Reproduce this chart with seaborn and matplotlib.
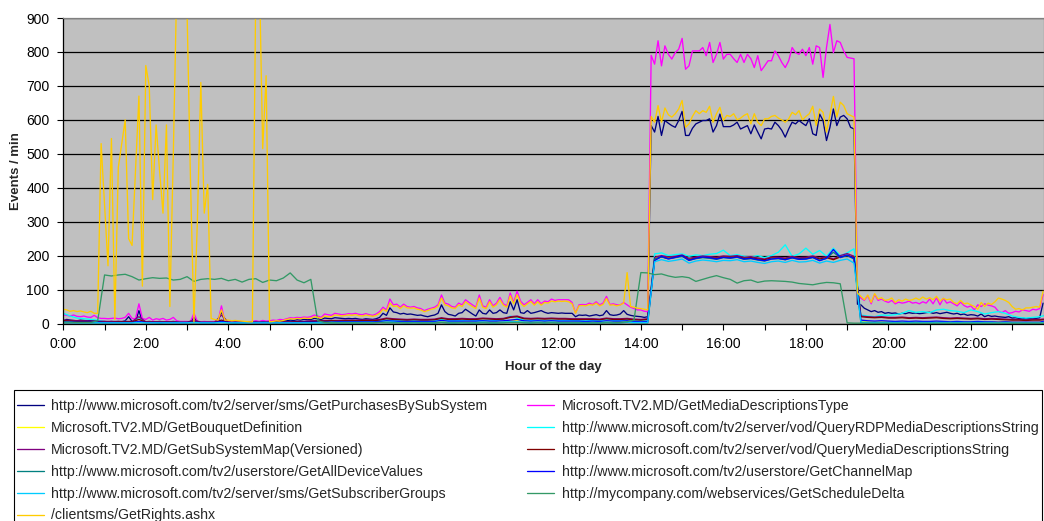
import numpy as np
import matplotlib
matplotlib.use("Agg")
import matplotlib.pyplot as plt
from matplotlib.patches import Rectangle
import seaborn as sns

# ---------------------------------------------------------------------------
# Events per minute for each web method over one day.
# Busy series are sampled every 5 minutes, the others every 10 minutes.
# One source line per hour of the day.
# ---------------------------------------------------------------------------
step5_min = 5
step10_min = 10

get_purchases_by_subsystem = [  # 5-min
    8, 12, 10, 9, 8, 10, 9, 8, 9, 8, 7, 6,
    6, 5, 6, 5, 6, 5, 8, 20, 6, 5, 38, 6,
    5, 6, 5, 5, 6, 5, 4, 5, 6, 5, 4, 4,
    4, 5, 18, 5, 4, 5, 4, 4, 5, 6, 36, 5,
    4, 4, 5, 4, 4, 5, 4, 5, 6, 5, 6, 5,
    5, 6, 6, 7, 8, 8, 10, 9, 11, 10, 12, 11,
    12, 15, 14, 12, 16, 15, 14, 17, 16, 15, 14, 15,
    14, 15, 13, 12, 14, 13, 12, 14, 18, 30, 24, 46,
    34, 32, 28, 30, 27, 28, 26, 24, 25, 22, 20, 23,
    25, 30, 55, 35, 27, 25, 22, 30, 32, 42, 35, 28,
    22, 40, 30, 28, 40, 30, 32, 40, 32, 30, 64, 40,
    70, 32, 30, 38, 30, 32, 35, 38, 33, 30, 32, 31,
    30, 31, 30, 30, 30, 20, 25, 24, 25, 22, 24, 26,
    23, 25, 38, 26, 24, 25, 28, 38, 27, 24, 22, 21,
    20, 18, 20, 583, 564, 610, 554, 598, 590, 583, 578, 598,
    625, 554, 554, 575, 588, 593, 598, 598, 603, 564, 583, 617,
    580, 580, 580, 585, 593, 573, 578, 583, 559, 585, 564, 544,
    573, 575, 573, 593, 583, 569, 549, 573, 593, 588, 598, 590,
    583, 603, 559, 554, 617, 598, 539, 578, 632, 583, 608, 613,
    603, 578, 573, 57, 55, 45, 40, 35, 38, 33, 35, 30,
    32, 30, 31, 28, 30, 29, 32, 30, 31, 29, 30, 32,
    33, 30, 32, 29, 31, 33, 30, 28, 30, 26, 28, 24,
    26, 25, 22, 28, 20, 24, 21, 22, 20, 19, 18, 20,
    16, 17, 15, 16, 14, 15, 16, 15, 17, 60,
]

get_media_descriptions_type = [  # 5-min
    26, 24, 22, 25, 21, 20, 22, 19, 18, 24, 17, 15,
    15, 14, 15, 16, 14, 15, 18, 30, 15, 14, 58, 15,
    12, 18, 10, 14, 12, 15, 10, 12, 18, 8, 6, 6,
    6, 5, 30, 6, 5, 6, 5, 5, 6, 6, 52, 6,
    5, 5, 4, 5, 4, 5, 5, 6, 8, 6, 9, 7,
    8, 10, 9, 12, 11, 14, 17, 16, 18, 17, 19, 18,
    20, 25, 22, 18, 28, 26, 24, 30, 28, 26, 27, 29,
    28, 30, 27, 26, 29, 26, 24, 28, 35, 48, 40, 72,
    55, 57, 48, 57, 50, 48, 50, 46, 44, 38, 42, 45,
    48, 55, 84, 60, 57, 50, 48, 60, 55, 70, 62, 55,
    48, 84, 52, 48, 70, 52, 60, 77, 58, 52, 90, 62,
    95, 66, 55, 62, 70, 58, 70, 58, 66, 64, 72, 68,
    70, 70, 70, 70, 62, 31, 55, 56, 55, 60, 56, 64,
    55, 60, 80, 56, 58, 55, 55, 62, 55, 48, 44, 40,
    40, 36, 35, 790, 764, 833, 759, 818, 793, 779, 798, 808,
    840, 749, 759, 803, 803, 803, 813, 789, 828, 769, 793, 828,
    779, 793, 793, 780, 769, 793, 769, 793, 780, 754, 789, 745,
    759, 774, 774, 803, 789, 769, 754, 774, 813, 798, 793, 808,
    789, 813, 764, 818, 813, 725, 813, 881, 798, 833, 828, 803,
    784, 782, 780, 88, 75, 68, 82, 58, 86, 68, 72, 66,
    62, 68, 58, 63, 60, 62, 66, 60, 62, 58, 64, 60,
    72, 58, 76, 55, 74, 60, 64, 58, 52, 63, 53, 48,
    52, 40, 55, 50, 58, 54, 52, 48, 36, 32, 38, 30,
    32, 36, 34, 40, 38, 36, 42, 40, 44, 85,
]

get_rights = [  # 5-min
    42, 40, 36, 38, 35, 37, 34, 32, 36, 30, 30, 530,
    350, 170, 545, 12, 460, 530, 600, 250, 230, 450, 670, 110,
    760, 700, 365, 585, 450, 325, 585, 50, 500, 1000, 1150, 1050,
    920, 420, 5, 300, 710, 325, 410, 15, 12, 10, 40, 10,
    10, 8, 9, 8, 7, 6, 5, 5, 1000, 1050, 515, 730,
    5, 6, 8, 7, 9, 12, 14, 13, 15, 14, 16, 15,
    15, 20, 18, 15, 22, 20, 20, 25, 24, 22, 24, 25,
    24, 26, 23, 22, 25, 23, 21, 24, 30, 42, 36, 60,
    50, 52, 44, 52, 46, 45, 46, 42, 40, 35, 38, 42,
    44, 50, 75, 55, 52, 46, 44, 55, 50, 64, 56, 50,
    44, 75, 48, 44, 64, 48, 55, 70, 54, 48, 82, 58,
    85, 60, 50, 58, 65, 54, 64, 54, 62, 60, 66, 64,
    66, 65, 66, 64, 58, 30, 52, 53, 52, 56, 54, 60,
    52, 56, 74, 54, 55, 52, 55, 60, 150, 50, 48, 45,
    44, 42, 40, 610, 593, 642, 593, 635, 615, 608, 618, 632,
    657, 578, 588, 610, 627, 618, 627, 622, 640, 593, 618, 637,
    598, 613, 610, 618, 600, 605, 613, 618, 588, 618, 593, 583,
    603, 603, 610, 613, 605, 600, 593, 603, 622, 615, 627, 600,
    610, 618, 640, 583, 632, 622, 564, 615, 669, 608, 652, 642,
    618, 613, 608, 90, 80, 70, 84, 62, 88, 72, 76, 68,
    70, 75, 62, 70, 66, 72, 68, 70, 75, 70, 78, 72,
    76, 70, 80, 66, 74, 70, 72, 62, 58, 68, 58, 60,
    55, 50, 42, 62, 50, 60, 56, 64, 75, 72, 68, 62,
    50, 42, 44, 40, 46, 46, 48, 50, 48, 95,
]

get_bouquet_definition = [  # 10-min
    4, 4, 3, 3, 3, 3,
    3, 3, 3, 3, 3, 5,
    3, 3, 3, 3, 3, 3,
    3, 4, 3, 3, 3, 5,
    3, 3, 3, 3, 3, 3,
    3, 3, 3, 3, 3, 3,
    3, 3, 3, 4, 4, 4,
    4, 4, 4, 4, 5, 6,
    5, 5, 5, 5, 5, 5,
    5, 6, 5, 5, 5, 5,
    5, 6, 5, 5, 6, 7,
    8, 6, 5, 6, 5, 6,
    5, 5, 5, 5, 5, 5,
    5, 6, 5, 5, 6, 5,
    4, 5, 193, 198, 194, 196,
    200, 190, 194, 197, 195, 193,
    197, 196, 198, 193, 195, 191,
    188, 194, 193, 191, 196, 192,
    193, 197, 191, 195, 188, 198,
    204, 196, 6, 5, 5, 5,
    5, 5, 5, 5, 5, 5,
    5, 5, 5, 4, 5, 4,
    4, 5, 4, 4, 4, 4,
    4, 4, 3, 4, 4, 5,
]

query_rdp_media_descriptions = [  # 10-min
    30, 22, 16, 14, 12, 10,
    5, 5, 4, 6, 5, 14,
    5, 4, 4, 4, 4, 3,
    3, 6, 3, 3, 3, 8,
    3, 3, 3, 3, 3, 4,
    3, 4, 4, 5, 4, 5,
    5, 6, 6, 7, 6, 7,
    6, 6, 7, 6, 8, 10,
    8, 8, 7, 8, 7, 7,
    8, 12, 8, 8, 9, 10,
    8, 9, 10, 9, 12, 22,
    16, 10, 9, 10, 9, 10,
    9, 9, 9, 8, 8, 9,
    8, 12, 9, 8, 12, 10,
    8, 10, 205, 208, 200, 203,
    205, 198, 202, 200, 204, 206,
    216, 200, 203, 198, 196, 200,
    194, 200, 210, 232, 198, 205,
    222, 204, 215, 198, 222, 200,
    208, 220, 25, 22, 20, 25,
    24, 26, 30, 38, 33, 35,
    32, 40, 42, 38, 36, 32,
    40, 35, 28, 32, 35, 30,
    22, 18, 16, 18, 20, 25,
]

get_subsystem_map = [  # 10-min
    10, 9, 8, 8, 7, 7,
    6, 6, 6, 6, 6, 20,
    5, 5, 5, 5, 5, 4,
    4, 10, 4, 4, 4, 25,
    4, 4, 4, 4, 4, 4,
    4, 4, 5, 5, 6, 6,
    8, 8, 9, 9, 9, 10,
    10, 10, 11, 10, 12, 16,
    14, 13, 12, 13, 12, 12,
    13, 17, 14, 14, 15, 14,
    14, 16, 15, 14, 15, 20,
    22, 16, 15, 16, 15, 16,
    15, 15, 14, 14, 14, 14,
    13, 16, 14, 14, 15, 13,
    12, 14, 195, 200, 196, 198,
    202, 192, 196, 199, 197, 195,
    199, 198, 200, 195, 197, 193,
    190, 196, 195, 193, 198, 194,
    195, 199, 193, 197, 190, 200,
    206, 198, 22, 20, 19, 20,
    18, 18, 19, 17, 18, 17,
    18, 19, 17, 16, 17, 16,
    15, 16, 14, 15, 14, 13,
    12, 12, 11, 12, 12, 14,
]

query_media_descriptions = [  # 10-min
    8, 7, 6, 6, 5, 5,
    4, 4, 5, 5, 5, 12,
    4, 4, 4, 4, 4, 3,
    3, 6, 3, 3, 3, 10,
    3, 3, 3, 3, 3, 3,
    3, 3, 4, 4, 5, 5,
    6, 7, 7, 8, 7, 8,
    8, 8, 9, 8, 10, 14,
    12, 11, 10, 11, 10, 10,
    11, 15, 12, 12, 13, 12,
    12, 14, 13, 12, 13, 18,
    20, 14, 13, 14, 13, 14,
    13, 13, 12, 12, 12, 12,
    11, 14, 12, 12, 13, 11,
    10, 12, 190, 196, 192, 195,
    200, 188, 193, 195, 194, 192,
    196, 195, 197, 192, 194, 190,
    188, 193, 192, 190, 195, 191,
    192, 196, 190, 194, 188, 196,
    200, 195, 20, 18, 17, 18,
    16, 16, 17, 15, 16, 15,
    16, 17, 15, 14, 15, 14,
    13, 14, 12, 13, 12, 11,
    10, 10, 9, 10, 10, 12,
]

get_all_device_values = [  # 10-min
    2, 2, 2, 2, 2, 2,
    2, 2, 2, 2, 2, 3,
    2, 2, 1, 2, 2, 2,
    2, 2, 2, 2, 2, 3,
    2, 1, 2, 2, 2, 2,
    2, 2, 2, 2, 2, 2,
    2, 2, 2, 2, 2, 2,
    2, 2, 2, 2, 3, 3,
    3, 3, 2, 3, 2, 2,
    2, 3, 2, 2, 3, 2,
    2, 3, 2, 2, 3, 4,
    4, 3, 2, 3, 2, 3,
    2, 2, 2, 2, 2, 2,
    2, 3, 2, 2, 3, 2,
    2, 2, 190, 196, 191, 194,
    198, 186, 191, 194, 192, 189,
    194, 192, 195, 189, 191, 187,
    184, 190, 191, 188, 193, 189,
    190, 194, 186, 192, 210, 194,
    200, 190, 3, 2, 2, 2,
    2, 2, 2, 2, 2, 2,
    2, 2, 2, 2, 2, 2,
    2, 2, 2, 2, 2, 2,
    2, 2, 2, 2, 2, 2,
]

get_channel_map = [  # 10-min
    5, 5, 4, 4, 4, 4,
    3, 3, 3, 3, 3, 6,
    3, 3, 3, 3, 3, 3,
    3, 4, 3, 3, 3, 6,
    3, 3, 3, 3, 3, 3,
    3, 3, 3, 3, 3, 4,
    4, 4, 4, 4, 5, 5,
    5, 5, 5, 5, 6, 8,
    7, 6, 6, 6, 6, 6,
    6, 9, 7, 7, 7, 7,
    7, 8, 7, 7, 8, 10,
    12, 8, 7, 8, 7, 8,
    7, 7, 7, 7, 6, 7,
    6, 8, 7, 7, 8, 6,
    5, 6, 185, 198, 190, 195,
    200, 186, 192, 196, 194, 190,
    195, 193, 196, 190, 192, 188,
    185, 190, 192, 188, 194, 189,
    190, 195, 185, 192, 218, 195,
    202, 192, 10, 8, 7, 8,
    7, 6, 7, 6, 7, 6,
    6, 7, 6, 5, 6, 5,
    5, 6, 5, 5, 4, 5,
    4, 4, 4, 4, 4, 8,
]

get_subscriber_groups = [  # 10-min
    3, 3, 2, 2, 2, 2,
    2, 2, 2, 2, 2, 3,
    2, 2, 2, 2, 2, 2,
    2, 3, 2, 2, 2, 3,
    2, 2, 2, 2, 2, 2,
    2, 2, 2, 2, 2, 2,
    2, 2, 2, 3, 3, 3,
    3, 3, 3, 3, 3, 4,
    4, 3, 3, 3, 3, 3,
    3, 4, 3, 3, 3, 3,
    3, 4, 3, 3, 4, 5,
    5, 4, 3, 4, 3, 4,
    3, 3, 3, 3, 3, 3,
    3, 4, 3, 3, 4, 3,
    3, 3, 182, 188, 183, 186,
    190, 178, 184, 187, 185, 182,
    186, 185, 188, 182, 184, 180,
    177, 182, 184, 180, 186, 181,
    182, 186, 178, 184, 180, 186,
    190, 178, 4, 3, 3, 3,
    3, 3, 3, 3, 3, 3,
    3, 3, 3, 3, 3, 3,
    3, 3, 3, 3, 2, 3,
    2, 2, 2, 2, 2, 4,
]

get_schedule_delta = [  # 10-min
    4, 4, 3, 3, 3, 8,
    143, 140, 143, 145, 138, 128,
    132, 135, 133, 134, 128, 130,
    138, 124, 130, 132, 130, 133,
    126, 130, 122, 130, 132, 121,
    128, 126, 134, 149, 128, 120,
    130, 8, 3, 2, 2, 2,
    2, 2, 2, 2, 3, 2,
    2, 2, 2, 2, 2, 2,
    2, 3, 2, 2, 2, 2,
    2, 2, 2, 2, 2, 3,
    3, 2, 2, 2, 2, 2,
    2, 2, 2, 2, 2, 2,
    2, 2, 2, 3, 5, 10,
    150, 149, 144, 146, 140, 136,
    138, 135, 124, 130, 136, 141,
    135, 130, 119, 126, 128, 121,
    125, 126, 125, 124, 122, 118,
    116, 114, 118, 121, 120, 117,
    2, 1, 1, 1, 1, 1,
    1, 1, 1, 1, 1, 1,
    1, 1, 1, 1, 1, 1,
    1, 1, 1, 1, 1, 1,
    1, 1, 1, 1, 1, 1,
]

# Series in plotting order: label, colour, sampling step (minutes), values
series = [
    ("http://www.microsoft.com/tv2/server/sms/GetPurchasesBySubSystem", "#000080", step5_min, get_purchases_by_subsystem),
    ("Microsoft.TV2.MD/GetMediaDescriptionsType", "#FF00FF", step5_min, get_media_descriptions_type),
    ("Microsoft.TV2.MD/GetBouquetDefinition", "#FFFF00", step10_min, get_bouquet_definition),
    ("http://www.microsoft.com/tv2/server/vod/QueryRDPMediaDescriptionsString", "#00FFFF", step10_min, query_rdp_media_descriptions),
    ("Microsoft.TV2.MD/GetSubSystemMap(Versioned)", "#800080", step10_min, get_subsystem_map),
    ("http://www.microsoft.com/tv2/server/vod/QueryMediaDescriptionsString", "#800000", step10_min, query_media_descriptions),
    ("http://www.microsoft.com/tv2/userstore/GetAllDeviceValues", "#008080", step10_min, get_all_device_values),
    ("http://www.microsoft.com/tv2/userstore/GetChannelMap", "#0000FF", step10_min, get_channel_map),
    ("http://www.microsoft.com/tv2/server/sms/GetSubscriberGroups", "#00CCFF", step10_min, get_subscriber_groups),
    ("http://mycompany.com/webservices/GetScheduleDelta", "#339966", step10_min, get_schedule_delta),
    ("/clientsms/GetRights.ashx", "#FFCC00", step5_min, get_rights),
]

# Legend reading order: left column first, then right column
legend_order = [0, 2, 4, 6, 8, 10, 1, 3, 5, 7, 9]

hour_ticks = list(range(0, 24))
hour_labels = [f"{h}:00" if h % 2 == 0 else "" for h in hour_ticks]
y_ticks = list(range(0, 901, 100))

# ---------------------------------------------------------------------------
sns.set_style("ticks")
plt.rcParams["font.family"] = ["Liberation Sans", "DejaVu Sans"]

W, H = 1044, 521
fig = plt.figure(figsize=(W / 100, H / 100), dpi=100)
x0, x1, y_top, y_bot = 63.3, 1043.5, 18.0, 323.5
ax = fig.add_axes([x0 / W, 1 - y_bot / H, (x1 - x0) / W, (y_bot - y_top) / H])
ax.set_facecolor("#C0C0C0")

handles = []
for label, color, step, values in series:
    t = np.arange(len(values)) * step / 60.0
    sns.lineplot(x=t, y=values, color=color, linewidth=0.95, ax=ax,
                 errorbar=None, legend=False)
    line = ax.get_lines()[-1]
    line.set_label(label)
    handles.append(line)

ax.set_xlim(0, 23.76)
ax.set_ylim(0, 900)
ax.set_xticks(hour_ticks)
ax.set_xticklabels(hour_labels)
ax.set_yticks(y_ticks)

ax.yaxis.grid(True, color="black", linewidth=0.9)
ax.xaxis.grid(False)
ax.set_axisbelow(True)

for side in ("left", "bottom"):
    ax.spines[side].set_color("black")
    ax.spines[side].set_linewidth(0.9)
ax.spines["top"].set_color("#808080")
ax.spines["top"].set_linewidth(0.9)
ax.spines["right"].set_color("#808080")
ax.spines["right"].set_linewidth(0.9)

ax.tick_params(axis="both", direction="out", length=4, width=0.8,
               colors="black", labelsize=10, pad=6)

ax.set_xlabel("Hour of the day", fontsize=9.5, fontweight="bold", labelpad=7)
ax.set_ylabel("Events / min", fontsize=9.5, fontweight="bold", labelpad=3)

# Legend box: open at the bottom edge of the figure
fig.patches.append(Rectangle((14 / W, -0.05), (1042 - 14) / W, 1 - 390 / H + 0.05,
                             transform=fig.transFigure, fill=False,
                             edgecolor="black", linewidth=0.8))

leg = fig.legend(
    [handles[i] for i in legend_order],
    [series[i][0] for i in legend_order],
    ncol=2, loc="upper left", bbox_to_anchor=(17 / W, 1 - 399 / H),
    frameon=False, fontsize=10.15, handlelength=1.88, handletextpad=0.55,
    columnspacing=2.84, labelspacing=0.56, borderpad=0, borderaxespad=0,
)

fig.savefig("out.png", dpi=100)
